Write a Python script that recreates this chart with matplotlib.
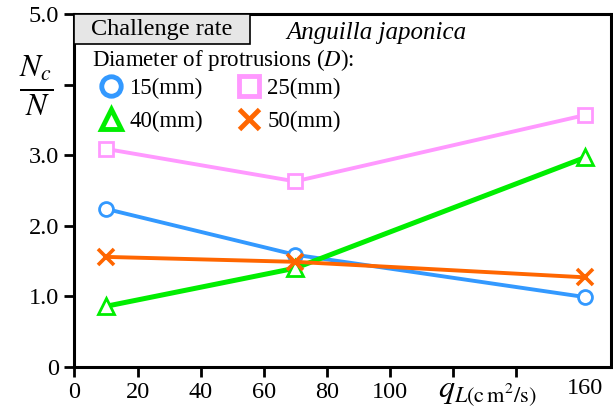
import matplotlib.pyplot as plt
from matplotlib.lines import Line2D
from matplotlib.patches import Rectangle

plt.rcParams['font.family'] = ['Liberation Serif', 'DejaVu Serif']
plt.rcParams['mathtext.fontset'] = 'stix'

# flow rate q_L (cm^2/s)
q_l = [10, 70, 162]
# challenge rate Nc/N per protrusion diameter
d15 = [2.24, 1.59, 0.99]
d25 = [3.09, 2.63, 3.57]
d40 = [0.86, 1.40, 2.97]
d50 = [1.56, 1.49, 1.27]

x_ticks = [0, 20, 40, 60, 80, 100, 120, 140]
x_labels = ['0', '20', '40', '60', '80', '100', '', '']
y_ticks = [0, 1, 2, 3, 4, 5]
y_labels = ['0', '1.0', '2.0', '3.0', '', '5.0']

c15 = '#3399ff'
c25 = '#ff99ff'
c40 = '#00ee00'
c50 = '#ff6600'

fig = plt.figure(figsize=(6.13, 4.15), dpi=100)
ax = fig.add_axes([0.1215, 0.1157, 0.8745, 0.8503])

ax.plot(q_l, d25, color=c25, lw=2.8, marker='s', ms=10, mfc='white',
        mec=c25, mew=2.0, zorder=3)
ax.plot(q_l, d15, color=c15, lw=2.8, marker='o', ms=10, mfc='white',
        mec=c15, mew=2.0, zorder=4)
ax.plot(q_l, d40, color=c40, lw=3.6, marker='^', ms=11, mfc='white',
        mec=c40, mew=2.0, zorder=5)
ax.plot(q_l, d50, color=c50, lw=2.8, marker='x', ms=11, mec=c50,
        mew=2.6, zorder=6)

ax.set_xlim(0, 170)
ax.set_ylim(0, 5)
ax.set_xticks(x_ticks)
ax.set_xticklabels(x_labels)
ax.set_yticks(y_ticks)
ax.set_yticklabels(y_labels)
ax.tick_params(direction='out', length=7, width=2, labelsize=17.5, pad=4)
for s in ax.spines.values():
    s.set_linewidth(2.2)

# last tick label sits under the last data column
ax.text(162, -0.03, '160', transform=ax.get_xaxis_transform(), ha='center',
        va='top', fontsize=17.5)
ax.text(0.77, -0.035, r'$q_{L\mathrm{(c\,m^2/s)}}$', transform=ax.transAxes,
        ha='center', va='top', fontsize=23)
# y label in place of 4.0
ax.text(-0.072, 0.8, r'$\frac{N_c}{N}$', transform=ax.transAxes,
        ha='center', va='center', fontsize=32)

# header box
ax.add_patch(Rectangle((0, 0.915), 0.327, 0.085, transform=ax.transAxes,
                       facecolor='#e6e6e6', edgecolor='black', lw=1.2,
                       zorder=7))
ax.text(0.163, 0.957, 'Challenge rate', transform=ax.transAxes,
        ha='center', va='center', fontsize=17.5, zorder=8)
ax.text(0.395, 0.947, 'Anguilla japonica', transform=ax.transAxes,
        ha='left', va='center', fontsize=18, style='italic')
ax.text(0.033, 0.87, 'Diameter of protrusions ($\\mathit{D}$):',
        transform=ax.transAxes, ha='left', va='center', fontsize=16.5)

handles = [
    Line2D([], [], ls='none', marker='o', ms=14, mfc='white', mec=c15, mew=3.5),
    Line2D([], [], ls='none', marker='^', ms=15, mfc='white', mec=c40, mew=3.5),
    Line2D([], [], ls='none', marker='s', ms=14, mfc='white', mec=c25, mew=3.5),
    Line2D([], [], ls='none', marker='x', ms=15, mec=c50, mew=3.5),
]
labels = ['15(mm)', '40(mm)', '25(mm)', '50(mm)']
ax.legend(handles, labels, ncol=2, frameon=False, loc='upper left',
          bbox_to_anchor=(0.03, 0.845), fontsize=16.5, handletextpad=0.3,
          columnspacing=1.5, labelspacing=0.5, handlelength=1.0,
          borderaxespad=0)

fig.savefig('out.png', dpi=100)
